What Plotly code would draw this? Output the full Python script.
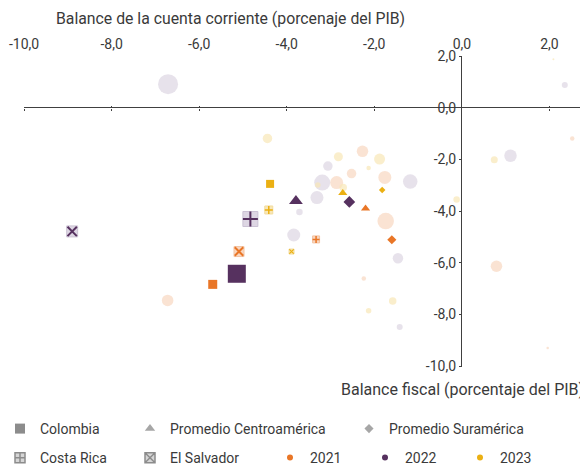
import plotly.graph_objects as go

# ---------------- DATA ----------------
anios = ["2021", "2022", "2023"]

# Highlighted series, values per year (2021, 2022, 2023)
colombia_x = [-5.69, -5.14, -4.38]
colombia_y = [-6.84, -6.43, -2.95]
colombia_tam = [9, 18, 8]

centro_x = [-2.20, -3.79, -2.72]
centro_y = [-3.90, -3.61, -3.30]
centro_tam = [8, 12, 8]

sur_x = [-1.60, -2.57, -1.82]
sur_y = [-5.11, -3.65, -3.19]
sur_tam = [7, 9, 5]

costa_x = [-3.33, -4.83, -4.41]
costa_y = [-5.10, -4.31, -3.96]
costa_tam = [7, 15, 8]

salv_x = [-5.09, -8.90, -3.89]
salv_y = [-5.57, -4.79, -5.57]
salv_tam = [10, 11, 5]

# Other countries (bubbles) per year
otros_2021_x = [-6.72, -2.27, -2.52, -1.76, -2.86, -1.74, -2.24, 0.79, 2.52, 2.92, 1.96]
otros_2021_y = [-7.46, -1.69, -2.55, -2.70, -2.90, -4.39, -6.61, -6.14, -1.19, -1.45, -9.30]
otros_2021_tam = [11.5, 11.5, 9.5, 13, 13, 16.5, 4.5, 11.5, 4.5, 4, 2.5]

otros_2022_x = [-6.71, 2.35, -3.84, -3.71, -3.06, -3.19, -1.18, -3.31, -1.46, -1.42, 1.11]
otros_2022_y = [0.91, 0.88, -4.93, -4.04, -2.26, -2.90, -2.86, -3.48, -5.83, -8.49, -1.86]
otros_2022_tam = [20, 6, 13, 6.5, 9.5, 16, 14.5, 13, 10.5, 6, 12.5]

otros_2023_x = [-4.44, 2.09, -2.82, -1.88, -2.13, -2.71, -3.29, -1.58, -2.13, -0.12, 0.74]
otros_2023_y = [-1.19, 1.87, -1.90, -1.99, -2.34, -3.09, -2.99, -7.48, -7.86, -3.55, -2.02]
otros_2023_tam = [9.5, 2, 9, 11, 4.5, 7.5, 5.5, 7.5, 5.5, 6.5, 7]

x_ticks = [-10, -8, -6, -4, -2, 0, 2]
x_tick_labels = ["-10,0", "-8,0", "-6,0", "-4,0", "-2,0", "0,0", "2,0"]
y_ticks = [2, 0, -2, -4, -6, -8, -10]
y_tick_labels = ["2,0", "0,0", "-2,0", "-4,0", "-6,0", "-8,0", "-10,0"]

titulo_y = "Balance de la cuenta corriente (porcenaje del PIB)"
titulo_x = "Balance fiscal (porcentaje del PIB)"

# ---------------- STYLE ----------------
FONT = "Roboto, 'Open Sans', sans-serif"
TXT = "#3a3a3a"
AX = "#404040"
oscuro = {"2021": "#E97627", "2022": "#56315F", "2023": "#EBB013"}
claro = {"2021": "#F8D7C0", "2022": "#DDD6E3", "2023": "#F8E7B7"}
borde = {"2021": "#F3C3A2", "2022": "#CBC2D4", "2023": "#F2DC9E"}

X_RANGE = [-10.0, 2.88]
Y_RANGE = [-10.0, 2.0]

# The page body has an 8px margin; layout positions below are given in
# window pixels and converted to figure pixels.
OFF = 8
FIG_W, FIG_H = 588 - OFF, 467 - OFF
L, T, W, H = 24 - OFF, 56 - OFF, 564, 310


def px_x(p):
    return (p - OFF - L) / W


def px_y(p):
    return (T + H - (p - OFF)) / H


fig = go.Figure()

otros = {
    "2021": (otros_2021_x, otros_2021_y, otros_2021_tam),
    "2022": (otros_2022_x, otros_2022_y, otros_2022_tam),
    "2023": (otros_2023_x, otros_2023_y, otros_2023_tam),
}
for a in anios:
    ox, oy, ot = otros[a]
    fig.add_trace(go.Scatter(
        x=ox, y=oy, mode="markers", showlegend=False,
        marker=dict(symbol="circle", size=ot, color=claro[a], line=dict(width=0)),
        name=a))

for i, a in enumerate(anios):
    fig.add_trace(go.Scatter(
        x=[colombia_x[i]], y=[colombia_y[i]], mode="markers", showlegend=False,
        marker=dict(symbol="square", size=colombia_tam[i], color=oscuro[a], line=dict(width=0)),
        name="Colombia " + a))
    fig.add_trace(go.Scatter(
        x=[centro_x[i]], y=[centro_y[i]], mode="markers", showlegend=False,
        marker=dict(symbol="triangle-up", size=centro_tam[i], color=oscuro[a], line=dict(width=0)),
        name="Promedio Centroamérica " + a))
    fig.add_trace(go.Scatter(
        x=[sur_x[i]], y=[sur_y[i]], mode="markers", showlegend=False,
        marker=dict(symbol="diamond", size=sur_tam[i], color=oscuro[a], line=dict(width=0)),
        name="Promedio Suramérica " + a))
    # Costa Rica: light square + dark cross
    fig.add_trace(go.Scatter(
        x=[costa_x[i]], y=[costa_y[i]], mode="markers", showlegend=False,
        marker=dict(symbol="square", size=costa_tam[i], color=claro[a],
                    line=dict(width=1, color=borde[a])),
        name="Costa Rica " + a))
    fig.add_trace(go.Scatter(
        x=[costa_x[i]], y=[costa_y[i]], mode="markers", showlegend=False,
        marker=dict(symbol="cross-thin", size=costa_tam[i] / 1.4,
                    line=dict(width=2 if costa_tam[i] > 10 else 1.5, color=oscuro[a])),
        name="Costa Rica " + a))
    # El Salvador: light square + dark X
    fig.add_trace(go.Scatter(
        x=[salv_x[i]], y=[salv_y[i]], mode="markers", showlegend=False,
        marker=dict(symbol="square", size=salv_tam[i], color=claro[a],
                    line=dict(width=1, color=borde[a])),
        name="El Salvador " + a))
    fig.add_trace(go.Scatter(
        x=[salv_x[i]], y=[salv_y[i]], mode="markers", showlegend=False,
        marker=dict(symbol="x-thin", size=salv_tam[i] * 0.85,
                    line=dict(width=2 if salv_tam[i] > 6 else 1.2, color=oscuro[a])),
        name="El Salvador " + a))


# ---------------- LEGEND ENTRIES ----------------
def leg(name, legend, group, **marker):
    fig.add_trace(go.Scatter(x=[None], y=[None], mode="markers", name=name,
                             legend=legend, legendgroup=group, marker=marker))


leg("Colombia", "legend", "a", symbol="square", size=10, color="#8c8c8c")
leg("Costa Rica", "legend", "b", symbol="square-cross", size=10, color="#d6d6d6",
    line=dict(color="#8c8c8c", width=1.5))
leg("Promedio Centroamérica", "legend2", "c", symbol="triangle-up", size=9, color="#a6a6a6")
leg("El Salvador", "legend2", "d", symbol="square-x", size=10, color="#d6d6d6",
    line=dict(color="#8c8c8c", width=1.5))
leg("Promedio Suramérica", "legend3", "e", symbol="diamond", size=7, color="#a6a6a6")
for a in anios:
    leg(a, "legend4", "y" + a, symbol="circle", size=6, color=oscuro[a])

# dummy traces to attach the tick-mark axes drawn along y = 0
fig.add_trace(go.Scatter(x=[None], y=[None], xaxis="x2", showlegend=False, hoverinfo="skip"))
fig.add_trace(go.Scatter(x=[None], y=[None], xaxis="x3", showlegend=False, hoverinfo="skip"))

y0_pos = (0 - Y_RANGE[0]) / (Y_RANGE[1] - Y_RANGE[0])
x0_pos = (0 - X_RANGE[0]) / (X_RANGE[1] - X_RANGE[0])

leg_font = dict(family=FONT, size=14, color=TXT)
common_leg = dict(xref="paper", yref="paper", xanchor="left", yanchor="top",
                  font=leg_font, bgcolor="rgba(0,0,0,0)", borderwidth=0,
                  traceorder="grouped", tracegroupgap=8)

fig.update_layout(
    width=FIG_W, height=FIG_H,
    margin=dict(l=L, r=FIG_W - L - W, t=T, b=FIG_H - T - H, autoexpand=False),
    paper_bgcolor="white", plot_bgcolor="white",
    font=dict(family=FONT, size=14, color=TXT),
    xaxis=dict(
        range=X_RANGE, side="top", anchor="y",
        tickvals=x_ticks, ticktext=x_tick_labels,
        ticks="", showline=False, showgrid=False,
        zeroline=True, zerolinecolor=AX, zerolinewidth=1.3,
        ticklabelstandoff=3,
        tickfont=dict(family=FONT, size=14, color=TXT),
    ),
    xaxis2=dict(
        range=X_RANGE, overlaying="x", anchor="free", position=y0_pos, side="bottom",
        tickvals=x_ticks, ticks="outside", ticklen=2, tickcolor=AX, tickwidth=1.3,
        showticklabels=False, showline=False, showgrid=False, zeroline=False,
    ),
    xaxis3=dict(
        range=X_RANGE, overlaying="x", anchor="free", position=y0_pos, side="bottom",
        tickvals=x_ticks, ticks="inside", ticklen=2, tickcolor=AX, tickwidth=1.3,
        showticklabels=False, showline=False, showgrid=False, zeroline=False,
    ),
    yaxis=dict(
        range=Y_RANGE, anchor="free", position=x0_pos, side="left",
        tickvals=y_ticks, ticktext=y_tick_labels,
        ticks="outside", ticklen=3, tickcolor=AX, tickwidth=1.3,
        showline=False, showgrid=False,
        zeroline=True, zerolinecolor=AX, zerolinewidth=1.3,
        tickfont=dict(family=FONT, size=14, color=TXT),
    ),
    legend=dict(x=px_x(0), y=px_y(413), **common_leg),
    legend2=dict(x=px_x(130), y=px_y(413), **common_leg),
    legend3=dict(x=px_x(349), y=px_y(413), **common_leg),
    legend4=dict(x=px_x(270), y=px_y(442), orientation="h",
                 entrywidth=50, entrywidthmode="pixels", **common_leg),
    annotations=[
        dict(text=titulo_y, xref="paper", yref="paper",
             x=px_x(54), y=px_y(18), xanchor="left", yanchor="middle",
             showarrow=False, font=dict(family=FONT, size=15.8, color=TXT)),
        dict(text=titulo_x, xref="paper", yref="paper",
             x=px_x(586), y=px_y(389), xanchor="right", yanchor="middle",
             showarrow=False, font=dict(family=FONT, size=16, color=TXT)),
    ],
)

fig.write_html("out.html")
